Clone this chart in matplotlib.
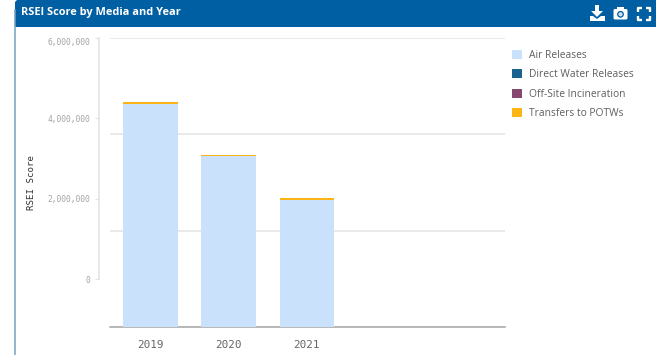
import numpy as np
import matplotlib
matplotlib.use("Agg")
import matplotlib.pyplot as plt
from matplotlib.patches import Rectangle, FancyBboxPatch, Circle, Polygon
from matplotlib.lines import Line2D

W, H = 656, 355

years = ["2019", "2020", "2021"]
air_releases = [4345000, 3050000, 1975000]
direct_water = [8000, 6000, 2000]
off_site_incineration = [2000, 2000, 1000]
transfers_to_potws = [40000, 22000, 32000]

series_names = ["Air Releases", "Direct Water Releases", "Off-Site Incineration", "Transfers to POTWs"]
series_colors = ["#cae1fb", "#1a6390", "#86486f", "#fdb515"]
y_ticks = [0, 2000000, 4000000, 6000000]
y_tick_labels = ["0", "2,000,000", "4,000,000", "6,000,000"]
AXIS_FLOOR = -1195000  # the bars run down past zero to the plot's base line

MONO = "DejaVu Sans Mono"
SANS = "Open Sans"
HEADER = "#005ea2"


def rect(x0, y0, x1, y1):
    """Figure-fraction rectangle from pixel edges measured from the top left."""
    return [x0 / W, 1 - y1 / H, (x1 - x0) / W, (y1 - y0) / H]


fig = plt.figure(figsize=(W / 100, H / 100), dpi=100, facecolor="white")

# Canvas in pixel coordinates for the panel frame and header icons
bg = fig.add_axes([0, 0, 1, 1], zorder=0)
bg.set_xlim(0, W)
bg.set_ylim(H, 0)
bg.axis("off")
bg.add_line(Line2D([15, 15], [10, H], color="#6fa3c4", lw=1.1))
bg.add_patch(Rectangle((15, 3), W, 24, fc=HEADER, ec="none"))
bg.add_patch(FancyBboxPatch((15, 0), W, 20, boxstyle="round,pad=0,rounding_size=3",
                            mutation_scale=1, fc=HEADER, ec="none"))
bg.text(21, 13, "RSEI Score by Media and Year", color="white", fontsize=7.95,
        fontweight="bold", family=SANS, va="center", ha="left")

# Download icon
bg.add_patch(Rectangle((595, 5), 4, 6, fc="white", ec="none"))
bg.add_patch(Polygon([[591, 11], [603, 11], [597, 17]], fc="white", ec="none"))
bg.add_patch(Polygon([[590, 16], [593, 16], [597, 19], [601, 16], [605, 16], [605, 21], [590, 21]],
                     fc="white", ec="none"))
# Camera icon
bg.add_patch(FancyBboxPatch((613.5, 9), 14, 10.5, boxstyle="round,pad=0,rounding_size=1.5",
                            mutation_scale=1, fc="white", ec="none"))
bg.add_patch(Rectangle((617, 7), 7, 3, fc="white", ec="none"))
bg.add_patch(Circle((620.5, 14.3), 3.4, fc=HEADER, ec="none"))
bg.add_patch(Circle((620.5, 14.3), 2.1, fc="#cfe0ee", ec="none"))
# Fullscreen icon
for xs, ys in [([638, 638, 642], [12, 8, 8]), ([646, 650, 650], [8, 8, 12]),
               ([638, 638, 642], [16, 20, 20]), ([646, 650, 650], [20, 20, 16])]:
    bg.add_line(Line2D(xs, ys, color="white", lw=1.7, solid_capstyle="butt"))

# Horizontal rules on an even scale from the base line to the top
ax_grid = fig.add_axes(rect(110, 38, 505, 327), zorder=1)
ax_grid.set_xlim(0, 1)
ax_grid.set_ylim(0, 6000000)
ax_grid.set_yticks(y_ticks)
ax_grid.set_xticks([])
ax_grid.tick_params(left=False, labelleft=False)
ax_grid.grid(axis="y", color="#e3e3e3", lw=1.1)
ax_grid.set_axisbelow(True)
for s in ax_grid.spines.values():
    s.set_visible(False)
ax_grid.spines["bottom"].set_visible(True)
ax_grid.spines["bottom"].set_color("#a6a6a6")
ax_grid.spines["bottom"].set_linewidth(1.1)
ax_grid.patch.set_alpha(0)

# Stacked bars and the value axis
ax = fig.add_axes(rect(110, 38, 505, 327), zorder=2)
ax.patch.set_alpha(0)
x = np.arange(len(years))
ax.set_xlim(-0.515, 4.53)
ax.set_ylim(AXIS_FLOOR, 6000000)

stack = [np.array(air_releases, float), np.array(direct_water, float),
         np.array(off_site_incineration, float), np.array(transfers_to_potws, float)]
heights = [stack[0] - AXIS_FLOOR] + stack[1:]
bottom = np.full(len(years), AXIS_FLOOR, dtype=float)
handles = []
for h, color, name in zip(heights, series_colors, series_names):
    handles.append(ax.bar(x, h, 0.7, bottom=bottom, color=color, label=name, linewidth=0))
    bottom = bottom + h

ax.set_xticks(x, years)
ax.tick_params(axis="x", length=0, pad=9, labelsize=7.9, labelcolor="#666666",
               labelfontfamily=MONO)

for name in ("top", "right", "bottom"):
    ax.spines[name].set_visible(False)
ax.spines["left"].set_position(("outward", 8))
ax.spines["left"].set_bounds(0, 6000000)
ax.spines["left"].set_color("#e3e3e3")
ax.spines["left"].set_linewidth(1.1)
ax.set_yticks(y_ticks, y_tick_labels)
ax.tick_params(axis="y", length=3, width=0.8, color="#e3e3e3", pad=3,
               labelsize=5.7, labelcolor="#a3a3a3", labelfontfamily=MONO)
ax.get_yticklabels()[-1].set_verticalalignment("top")

fig.text(31 / W, 1 - 182 / H, "RSEI Score", rotation=90, va="center", ha="center",
         fontsize=6.6, family=MONO, color="#333333")

fig.legend(handles=handles, loc="upper left", bbox_to_anchor=(509.5 / W, 1 - 47.5 / H),
           frameon=False, ncol=1, prop={"family": SANS, "size": 7.4},
           labelcolor="#5f5f5f", handlelength=1.0, handleheight=1.0,
           handletextpad=0.65, labelspacing=0.82, borderpad=0.2, borderaxespad=0)

fig.savefig("out.png", dpi=100)
